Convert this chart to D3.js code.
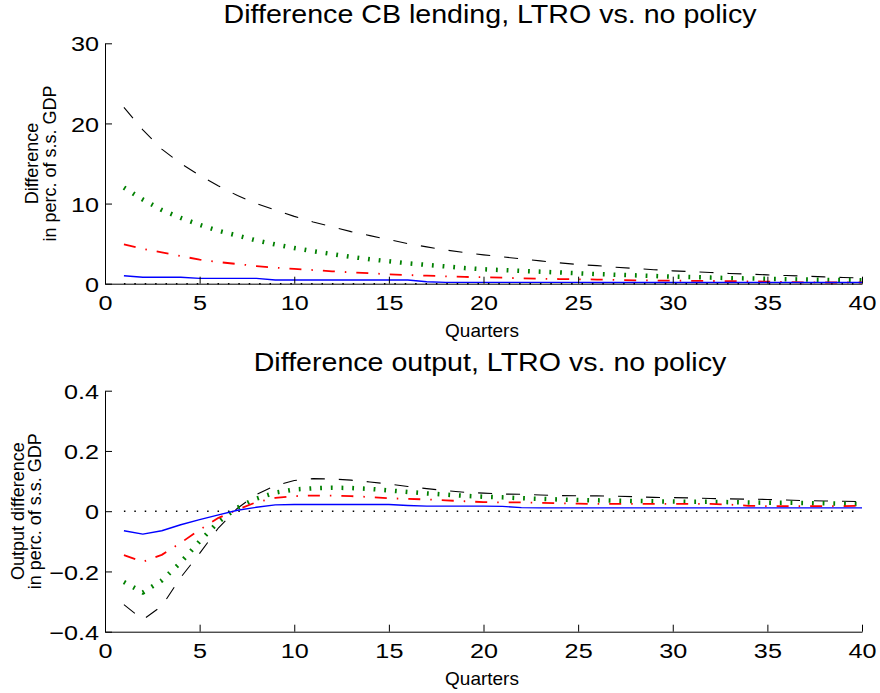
<!DOCTYPE html>
<html>
<head>
<meta charset="utf-8">
<script src="https://cdn.jsdelivr.net/npm/d3@7"></script>
<style>
  body { margin: 0; background: #fff; }
  svg { display: block; }
  text { font-family: "Liberation Sans", Arial, Helvetica, sans-serif; fill: #000; }
</style>
</head>
<body>
<svg id="chart" width="880" height="693"></svg>
<script>
// Quarters after the policy shock
const quarters = [1,2,3,4,5,6,7,8,9,10,11,12,13,14,15,16,17,18,19,20,
                  21,22,23,24,25,26,27,28,29,30,31,32,33,34,35,36,37,38,39,40];

// Difference in CB lending (perc. of s.s. GDP), four scenarios
const lendBlack = [22.0,19.2,16.8,15.0,13.5,12.2,11.0,10.0,9.2,8.4,7.7,7.1,6.5,6.0,5.5,5.0,4.6,4.2,3.9,3.6,
                   3.35,3.1,2.85,2.6,2.4,2.25,2.05,1.9,1.75,1.6,1.5,1.4,1.28,1.2,1.1,1.02,0.95,0.85,0.78,0.72];
const lendGreen = [12.0,10.5,9.2,8.2,7.35,6.6,6.0,5.4,4.9,4.45,4.05,3.7,3.35,3.05,2.8,2.55,2.35,2.15,1.95,1.8,
                   1.7,1.6,1.5,1.4,1.3,1.2,1.12,1.04,0.96,0.88,0.82,0.76,0.7,0.65,0.6,0.56,0.52,0.48,0.45,0.42];
const lendRed   = [4.9,4.35,3.9,3.45,3.0,2.7,2.45,2.2,2.0,1.85,1.7,1.55,1.42,1.3,1.18,1.08,1.0,0.92,0.85,0.8,
                   0.75,0.68,0.62,0.58,0.55,0.52,0.46,0.42,0.4,0.38,0.36,0.34,0.32,0.3,0.25,0.2,0.17,0.15,0.15,0.15];
const lendBlue  = [1.0,0.8,0.8,0.8,0.67,0.67,0.67,0.67,0.46,0.46,0.46,0.46,0.46,0.46,0.46,0.46,0.25,0.17,0.17,0.17,
                   0.17,0.17,0.17,0.17,0.17,0.15,0.15,0.15,0.15,0.15,0.15,0.15,0.15,0.15,0.15,0.15,0.15,0.15,0.15,0.15];

// Difference in output (perc. of s.s. GDP), four scenarios
const outBlack = [-0.31,-0.36,-0.315,-0.22,-0.14,-0.055,0.01,0.055,0.085,0.102,0.108,0.107,0.103,0.097,0.09,0.082,0.075,0.068,0.063,0.06,
                  0.057,0.056,0.054,0.052,0.051,0.051,0.05,0.048,0.046,0.045,0.044,0.042,0.041,0.04,0.039,0.037,0.035,0.034,0.033,0.032];
const outGreen = [-0.235,-0.27,-0.23,-0.17,-0.1,-0.035,0.012,0.042,0.062,0.072,0.076,0.078,0.077,0.074,0.069,0.064,0.059,0.055,0.051,0.048,
                  0.046,0.043,0.041,0.039,0.037,0.036,0.035,0.034,0.033,0.032,0.031,0.031,0.03,0.029,0.028,0.028,0.027,0.026,0.025,0.024];
const outRed   = [-0.146,-0.168,-0.145,-0.105,-0.062,-0.022,0.005,0.03,0.044,0.05,0.052,0.052,0.05,0.047,0.043,0.041,0.039,0.036,0.033,0.03,
                  0.029,0.029,0.028,0.026,0.025,0.024,0.024,0.024,0.024,0.024,0.024,0.024,0.022,0.018,0.017,0.017,0.017,0.017,0.017,0.018];
const outBlue  = [-0.065,-0.076,-0.065,-0.045,-0.028,-0.012,0.003,0.013,0.021,0.022,0.022,0.022,0.022,0.022,0.022,0.019,0.017,0.017,0.017,0.017,
                  0.016,0.012,0.011,0.011,0.011,0.011,0.011,0.011,0.011,0.011,0.011,0.011,0.011,0.011,0.011,0.011,0.011,0.011,0.011,0.011];

// Zero reference line
const zeroLine = quarters.map(() => 0);

// Axis ticks
const xTicks = [0,5,10,15,20,25,30,35,40];
const xTickLabels = ["0","5","10","15","20","25","30","35","40"];
const lendTicks = [0,10,20,30];
const lendTickLabels = ["0","10","20","30"];
const outTicks = [-0.4,-0.2,0,0.2,0.4];
const outTickLabels = ["\u22120.4","\u22120.2","0","0.2","0.4"];

// Line styles per scenario
const styles = {
  zero:  { color: "#000000", width: 1.5, dash: "1.5,8.9" },
  black: { color: "#000000", width: 1.1, dash: "14,14" },
  green: { color: "#008000", width: 4.5, dash: "1.8,8.9" },
  red:   { color: "#ff0000", width: 1.8, dash: "12,10,1.5,10" },
  blue:  { color: "#0000ff", width: 1.4, dash: null }
};

const svg = d3.select("#chart");
const x = d3.scaleLinear().domain([0, 40]).range([105, 862]);

function drawPanel(cfg) {
  const y = d3.scaleLinear().domain(cfg.domain).range([cfg.bottom, cfg.top]);
  const g = svg.append("g");

  // series
  const line = d3.line().x((d, i) => x(quarters[i])).y(d => y(d));
  cfg.series.forEach(s => {
    const st = styles[s.style];
    g.append("path")
      .datum(s.values)
      .attr("d", line)
      .attr("fill", "none")
      .attr("stroke", st.color)
      .attr("stroke-width", st.width)
      .attr("stroke-dasharray", st.dash)
      .attr("stroke-linejoin", "round");
  });

  // x axis
  const xAxis = d3.axisBottom(x)
    .tickValues(xTicks)
    .tickFormat((d, i) => xTickLabels[i])
    .tickSizeInner(-7)
    .tickSizeOuter(0);
  const gx = g.append("g").attr("transform", `translate(0,${cfg.bottom})`).call(xAxis);
  gx.attr("font-family", null).attr("font-size", null);
  gx.select(".domain").attr("stroke", "#000");
  gx.selectAll(".tick line").attr("stroke", "#000");
  gx.selectAll(".tick text")
    .attr("y", 26.5).attr("dy", null)
    .attr("font-size", 21)
    .attr("transform", "scale(1.2,1)")
    .attr("x", 0);

  // y axis
  const yAxis = d3.axisLeft(y)
    .tickValues(cfg.ticks)
    .tickFormat((d, i) => cfg.tickLabels[i])
    .tickSizeInner(-7)
    .tickSizeOuter(0);
  const gy = g.append("g").attr("transform", `translate(${x(0)},0)`).call(yAxis);
  gy.attr("font-family", null).attr("font-size", null);
  gy.select(".domain").attr("stroke", "#000");
  gy.selectAll(".tick line").attr("stroke", "#000");
  gy.selectAll(".tick text")
    .attr("x", -6 / 1.2).attr("dy", "0.36em")
    .attr("font-size", 21)
    .attr("transform", "scale(1.2,1)");

  // title
  g.append("text")
    .attr("transform", `translate(490,${cfg.titleY}) scale(1.1,1)`)
    .attr("text-anchor", "middle")
    .attr("font-size", 26)
    .text(cfg.title);

  // x label
  g.append("text")
    .attr("x", 482).attr("y", cfg.bottom + 53)
    .attr("text-anchor", "middle")
    .attr("font-size", 19)
    .text("Quarters");

  // y label, two lines
  const cy = (cfg.top + cfg.bottom) / 2;
  cfg.yLabel.forEach((txt, i) => {
    g.append("text")
      .attr("transform", `translate(${cfg.yLabelX + i * 17.5},${cy}) rotate(-90)`)
      .attr("text-anchor", "middle")
      .attr("font-size", 18)
      .text(txt);
  });
}

drawPanel({
  top: 43.3, bottom: 283.7,
  domain: [0, 30],
  ticks: lendTicks, tickLabels: lendTickLabels,
  title: "Difference CB lending, LTRO vs. no policy",
  titleY: 22.7,
  yLabel: ["Difference", "in perc. of s.s. GDP"],
  yLabelX: 38,
  series: [
    { values: zeroLine, style: "zero" },
    { values: lendBlack, style: "black" },
    { values: lendGreen, style: "green" },
    { values: lendRed, style: "red" },
    { values: lendBlue, style: "blue" }
  ]
});

drawPanel({
  top: 390.7, bottom: 631.7,
  domain: [-0.4, 0.4],
  ticks: outTicks, tickLabels: outTickLabels,
  title: "Difference output, LTRO vs. no policy",
  titleY: 370.5,
  yLabel: ["Output difference", "in perc. of s.s. GDP"],
  yLabelX: 23.5,
  series: [
    { values: zeroLine, style: "zero" },
    { values: outBlack, style: "black" },
    { values: outGreen, style: "green" },
    { values: outRed, style: "red" },
    { values: outBlue, style: "blue" }
  ]
});
</script>
</body>
</html>
